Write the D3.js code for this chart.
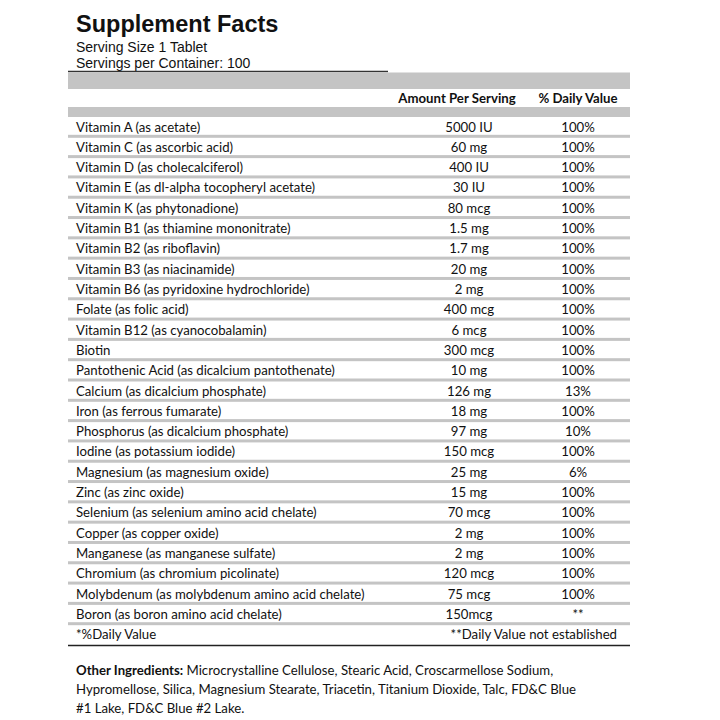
<!DOCTYPE html>
<html><head><meta charset="utf-8">
<script src="https://cdn.jsdelivr.net/npm/d3@7"></script>
<style>html,body{margin:0;padding:0;background:#fff;}</style>
</head><body>
<script>
const title = "Supplement Facts";
const servingLines = ["Serving Size 1 Tablet", "Servings per Container: 100"];
const columnHeaders = ["Amount Per Serving", "% Daily Value"];
const nutrients = [
  "Vitamin A (as acetate)",
  "Vitamin C (as ascorbic acid)",
  "Vitamin D (as cholecalciferol)",
  "Vitamin E (as dl-alpha tocopheryl acetate)",
  "Vitamin K (as phytonadione)",
  "Vitamin B1 (as thiamine mononitrate)",
  "Vitamin B2 (as riboflavin)",
  "Vitamin B3 (as niacinamide)",
  "Vitamin B6 (as pyridoxine hydrochloride)",
  "Folate (as folic acid)",
  "Vitamin B12 (as cyanocobalamin)",
  "Biotin",
  "Pantothenic Acid (as dicalcium pantothenate)",
  "Calcium (as dicalcium phosphate)",
  "Iron (as ferrous fumarate)",
  "Phosphorus (as dicalcium phosphate)",
  "Iodine (as potassium iodide)",
  "Magnesium (as magnesium oxide)",
  "Zinc (as zinc oxide)",
  "Selenium (as selenium amino acid chelate)",
  "Copper (as copper oxide)",
  "Manganese (as manganese sulfate)",
  "Chromium (as chromium picolinate)",
  "Molybdenum (as molybdenum amino acid chelate)",
  "Boron (as boron amino acid chelate)"
];
const amounts = ["5000 IU","60 mg","400 IU","30 IU","80 mcg","1.5 mg","1.7 mg","20 mg","2 mg","400 mcg","6 mcg","300 mcg","10 mg","126 mg","18 mg","97 mg","150 mcg","25 mg","15 mg","70 mcg","2 mg","2 mg","120 mcg","75 mcg","150mcg"];
const dailyValues = ["100%","100%","100%","100%","100%","100%","100%","100%","100%","100%","100%","100%","100%","13%","100%","10%","100%","6%","100%","100%","100%","100%","100%","100%","**"];
const footnotes = ["*%Daily Value", "**Daily Value not established"];
const otherLabel = "Other Ingredients:";
const otherLines = [
  " Microcrystalline Cellulose, Stearic Acid, Croscarmellose Sodium,",
  "Hypromellose, Silica, Magnesium Stearate, Triacetin, Titanium Dioxide, Talc, FD&C Blue",
  "#1 Lake, FD&C Blue #2 Lake."
];

const W = 720, H = 720;
const svg = d3.select("body").append("svg").attr("width", W).attr("height", H);
const tableFont = "Lato, 'Open Sans', sans-serif";
const arial = "'Liberation Sans', Arial, sans-serif";
const fs = 13.2;

const left = 68, right = 630, textX = 76;
const rowKeys = nutrients.map((d,i)=>i).concat(["foot"]);
const y = d3.scaleBand().domain(rowKeys).range([117, 645]);
const colX = d3.scaleOrdinal().domain(["amount","dv"]).range([457, 578]);

// Title block
svg.append("text").attr("x", textX).attr("y", 32).attr("font-family", arial)
  .attr("font-weight", "bold").attr("font-size", 23.5).attr("fill", "#111").text(title);
svg.selectAll("text.serv").data(servingLines).join("text").attr("class","serv")
  .attr("x", textX).attr("y", (d,i)=>52 + i*15.5).attr("font-family", arial)
  .attr("font-size", 14).attr("fill", "#111").text(d=>d);
svg.append("line").attr("x1", left).attr("x2", 388).attr("y1", 71.5).attr("y2", 71.5)
  .attr("stroke", "#333").attr("stroke-width", 1.5);

// header bands
svg.append("rect").attr("x", left).attr("y", 72.5).attr("width", right-left).attr("height", 16.5).attr("fill", "#c4c4c4");
svg.append("rect").attr("x", left).attr("y", 107).attr("width", right-left).attr("height", 10).attr("fill", "#c4c4c4");
svg.selectAll("text.hdr").data(columnHeaders).join("text").attr("class","hdr")
  .attr("x", (d,i)=>colX(i===0?"amount":"dv")).attr("y", 102.5).attr("text-anchor","middle")
  .attr("font-family", tableFont).attr("font-weight","bold").attr("font-size", fs).attr("fill","#111").text(d=>d);

// row separators
svg.selectAll("rect.sep").data(nutrients.map((d,i)=>i)).join("rect").attr("class","sep")
  .attr("x", left).attr("width", right-left)
  .attr("y", i=>y(i)+y.bandwidth()-2.5).attr("height", 3).attr("fill", "#c4c4c4");

const rows = svg.selectAll("g.row").data(nutrients.map((n,i)=>({n, a:amounts[i], v:dailyValues[i], i})))
  .join("g").attr("class","row").attr("transform", d=>`translate(0,${y(d.i)})`);
rows.append("text").attr("x", textX).attr("y", 14.5).attr("font-family", tableFont)
  .attr("font-size", fs).attr("fill","#111").text(d=>d.n);
rows.append("text").attr("x", colX("amount")+12).attr("y", 14.5).attr("text-anchor","middle").attr("font-family", tableFont)
  .attr("font-size", fs).attr("fill","#111").text(d=>d.a);
rows.append("text").attr("x", colX("dv")).attr("y", 14.5).attr("text-anchor","middle").attr("font-family", tableFont)
  .attr("font-size", fs).attr("fill","#111").text(d=>d.v);

// footnote row
svg.append("text").attr("x", textX).attr("y", y("foot")+14.5).attr("font-family", tableFont)
  .attr("font-size", fs).attr("fill","#111").text(footnotes[0]);
svg.append("text").attr("x", 617).attr("y", y("foot")+14.5).attr("text-anchor","end").attr("font-family", tableFont)
  .attr("font-size", fs).attr("fill","#111").text(footnotes[1]);
svg.append("line").attr("x1", left).attr("x2", right).attr("y1", 645.5).attr("y2", 645.5)
  .attr("stroke", "#222").attr("stroke-width", 1.5);

// other ingredients
const other = svg.append("text").attr("font-family", tableFont).attr("font-size", fs).attr("fill","#111");
otherLines.forEach((line,i)=>{
  const t = other.append("tspan").attr("x", textX).attr("y", 675 + i*19);
  if (i===0) {
    t.attr("font-weight","bold").text(otherLabel);
    other.append("tspan").text(line);
  } else t.text(line);
});
</script>
</body></html>
